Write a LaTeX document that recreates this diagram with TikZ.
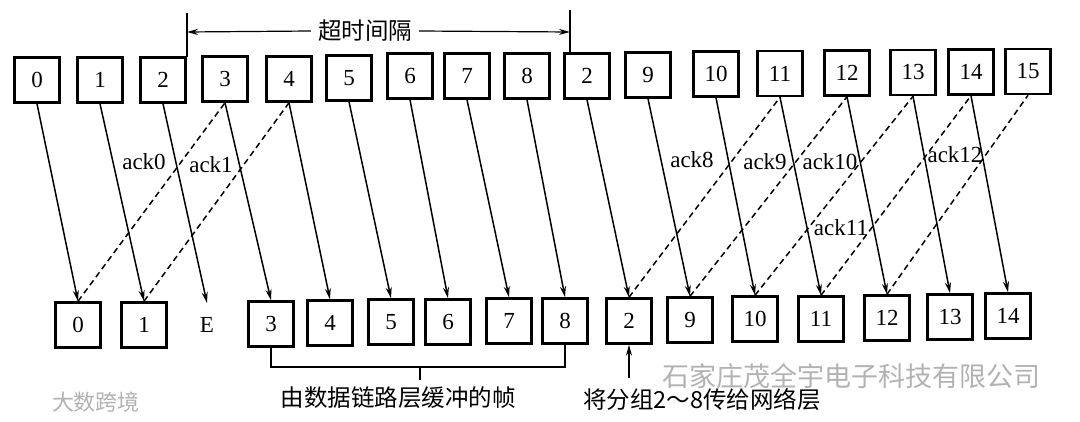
\documentclass[tikz,border=0pt]{standalone}
\usepackage{fontspec}
\setmainfont{Liberation Serif}
\newfontfamily\cjk{Noto Sans CJK SC}
\usetikzlibrary{arrows.meta}
\begin{document}
\begin{tikzpicture}[x=1pt,y=-1pt,
 box/.style={draw,line width=2.5pt,minimum width=45pt,minimum height=45pt,inner sep=0pt,font=\fontsize{23}{23}\selectfont},
 frame/.style={-{Stealth[length=11pt,width=6pt]},line width=1.5pt},
 ackline/.style={dash pattern=on 6pt off 4pt,line width=1.5pt},
 lbl/.style={font=\fontsize{23}{23}\selectfont,inner sep=1pt},
 zh/.style={font=\cjk\fontsize{23.5}{23.5}\selectfont,inner sep=1pt},
 thinline/.style={line width=1.2pt},
 thinarrow/.style={-{Stealth[length=11pt,width=6pt]},line width=1.2pt},
 wm/.style={text=black!30,inner sep=0pt}]
\useasboundingbox (0,0) rectangle (1080,422);
% top row (sender)
\node[box] (t0) at (37,80) {0};
\node[box] (t1) at (100,80) {1};
\node[box] (t2) at (163,80) {2};
\node[box] (t3) at (225,79) {3};
\node[box] (t4) at (289,79) {4};
\node[box] (t5) at (349,78) {5};
\node[box] (t6) at (410,76) {6};
\node[box] (t7) at (467,76) {7};
\node[box] (t8) at (527,76) {8};
\node[box] (t2b) at (587,76) {2};
\node[box] (t9) at (648,75) {9};
\node[box] (t10) at (716,74) {10};
\node[box] (t11) at (780,73.5) {11};
\node[box] (t12) at (847,73) {12};
\node[box] (t13) at (913,72.5) {13};
\node[box] (t14) at (971,72) {14};
\node[box] (t15) at (1028,71.5) {15};
% bottom row (receiver)
\node[box] (b0) at (78,325) {0};
\node[box] (b1) at (144,325) {1};
\node[lbl] (bE) at (207,325) {E};
\coordinate (Etop) at (207,303);
\node[box] (b3) at (271,324) {3};
\node[box] (b4) at (330,323) {4};
\node[box] (b5) at (391,322) {5};
\node[box] (b6) at (448,322) {6};
\node[box] (b7) at (509,321) {7};
\node[box] (b8) at (565,321) {8};
\node[box] (b2) at (629,321) {2};
\node[box] (b9) at (690,320) {9};
\node[box] (b10) at (755,319) {10};
\node[box] (b11) at (821,319) {11};
\node[box] (b12) at (887,318) {12};
\node[box] (b13) at (950,317) {13};
\node[box] (b14) at (1008,316) {14};
% data frames
\draw[frame] (t0.south) -- (b0.north);
\draw[frame] (t1.south) -- (b1.north);
\draw[frame] (t2.south) -- (Etop);
\draw[frame] (t3.south) -- (b3.north);
\draw[frame] (t4.south) -- (b4.north);
\draw[frame] (t5.south) -- (b5.north);
\draw[frame] (t6.south) -- (b6.north);
\draw[frame] (t7.south) -- (b7.north);
\draw[frame] (t8.south) -- (b8.north);
\draw[frame] (t2b.south) -- (b2.north);
\draw[frame] (t9.south) -- (b9.north);
\draw[frame] (t10.south) -- (b10.north);
\draw[frame] (t11.south) -- (b11.north);
\draw[frame] (t12.south) -- (b12.north);
\draw[frame] (t13.south) -- (b13.north);
\draw[frame] (t14.south) -- (b14.north);
% acknowledgements
\draw[ackline] (b0.north) -- (t3.south);
\draw[ackline] (b1.north) -- (t4.south);
\draw[ackline] (b2.north) -- (t11.south);
\draw[ackline] (b9.north) -- (t12.south);
\draw[ackline] (b10.north) -- (t13.south);
\draw[ackline] (b11.north) -- (t14.south);
\draw[ackline] (b12.north) -- (t15.south);
\node[lbl] (a0) at (144,162) {ack0};
\node[lbl] (a1) at (211,165) {ack1};
\node[lbl] (a8) at (692,160) {ack8};
\node[lbl] (a9) at (765,162) {ack9};
\node[lbl] (a10) at (830,162) {ack10};
\node[lbl] (a11) at (841,228) {ack11};
\node[lbl] (a12) at (955,155) {ack12};
% timeout interval
\coordinate (tvL1) at (187,13);
\coordinate (tvL2) at (187,57.5);
\coordinate (tvR1) at (570,10);
\coordinate (tvR2) at (570,53.5);
\coordinate (tL) at (187,32);
\coordinate (tR) at (570,32);
\draw[thinline] (tvL1) -- (tvL2);
\draw[thinline] (tvR1) -- (tvR2);
\node[zh] (to) at (365,31) {超时间隔};
\draw[thinarrow] (to.west) ++(-6,0) -- (tL);
\draw[thinarrow] (to.east) ++(6,0) -- (tR);
% buffered frames bracket
\coordinate (br) at (420,367);
\coordinate (brt) at (420,380);
\draw[thinline] (b3.south) |- (br) -| (b8.south);
\draw[thinline] (br) -- (brt);
\node[zh] (buf) at (398,398) {由数据链路层缓冲的帧};
% pass to network layer
\coordinate (np) at (629,378);
\draw[thinarrow] (np) -- (b2.south);
\node[zh] (net) at (702,400) {将分组2～8传给网络层};
% watermarks
\node[wm,font=\cjk\fontsize{27}{27}\selectfont] (wm1) at (851,376) {石家庄茂全宇电子科技有限公司};
\node[wm,font=\cjk\fontsize{22}{22}\selectfont] (wm2) at (96,402) {大数跨境};
\end{tikzpicture}
\end{document}
